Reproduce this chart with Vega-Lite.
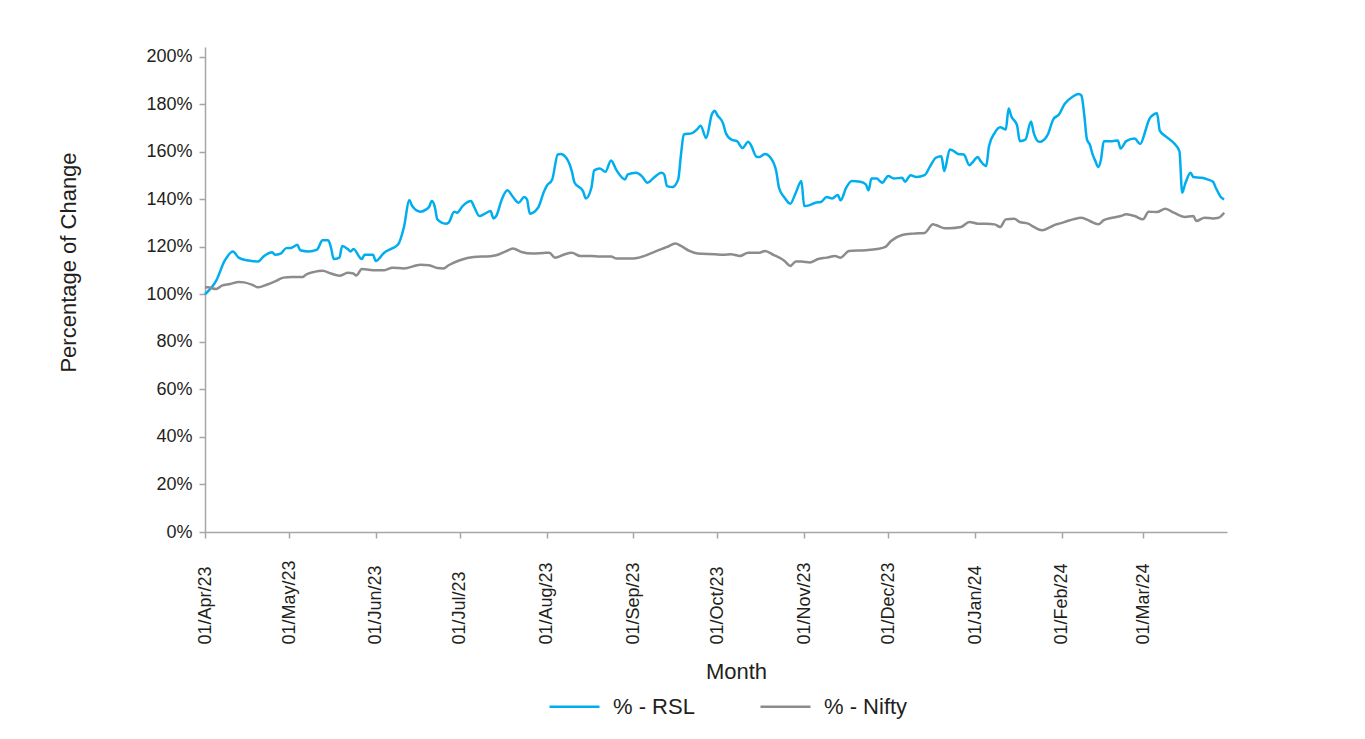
{
  "$schema": "https://vega.github.io/schema/vega-lite/v6.json",
  "width": 1022,
  "height": 485,
  "autosize": {"type": "none"},
  "padding": {"left": 205, "top": 47, "right": 138, "bottom": 207},
  "background": "white",
  "config": {"view": {"stroke": null}, "font": "Liberation Sans"},
  "datasets": {
    "rsl": [
      {"d":"2023-04-01","v":100},{"d":"2023-04-05","v":105.7},{"d":"2023-04-08","v":114},{"d":"2023-04-11","v":118},{"d":"2023-04-13","v":115.4},{"d":"2023-04-16","v":114.3},{"d":"2023-04-20","v":113.8},{"d":"2023-04-22","v":116},{"d":"2023-04-25","v":117.7},{"d":"2023-04-26","v":116.6},{"d":"2023-04-28","v":117.1},{"d":"2023-04-30","v":119.4},
      {"d":"2023-05-02","v":119.6},{"d":"2023-05-04","v":120.8},{"d":"2023-05-05","v":118.5},{"d":"2023-05-08","v":118},{"d":"2023-05-11","v":118.8},{"d":"2023-05-13","v":122.7},{"d":"2023-05-15","v":122.7},{"d":"2023-05-16","v":119.6},{"d":"2023-05-17","v":114.8},{"d":"2023-05-19","v":115.4},{"d":"2023-05-20","v":120.3},{"d":"2023-05-22","v":119},{"d":"2023-05-23","v":118},{"d":"2023-05-24","v":119},{"d":"2023-05-27","v":114.8},{"d":"2023-05-28","v":116.6},{"d":"2023-05-31","v":116.6},
      {"d":"2023-06-01","v":114},{"d":"2023-06-04","v":117.5},{"d":"2023-06-07","v":119.4},{"d":"2023-06-09","v":121},{"d":"2023-06-11","v":128},{"d":"2023-06-13","v":139.5},{"d":"2023-06-14","v":137.1},{"d":"2023-06-17","v":134.7},{"d":"2023-06-19","v":135.7},{"d":"2023-06-20","v":136.7},{"d":"2023-06-21","v":139.2},{"d":"2023-06-22","v":137.1},{"d":"2023-06-23","v":131.5},{"d":"2023-06-26","v":129.7},{"d":"2023-06-27","v":130.1},{"d":"2023-06-29","v":134.7},{"d":"2023-06-30","v":134.3},
      {"d":"2023-07-02","v":137.1},{"d":"2023-07-05","v":139.2},{"d":"2023-07-06","v":137.1},{"d":"2023-07-08","v":132.9},{"d":"2023-07-10","v":133.9},{"d":"2023-07-12","v":135},{"d":"2023-07-13","v":131.9},{"d":"2023-07-14","v":132.9},{"d":"2023-07-16","v":139.9},{"d":"2023-07-18","v":143.7},{"d":"2023-07-20","v":140.9},{"d":"2023-07-22","v":138.5},{"d":"2023-07-24","v":140.9},{"d":"2023-07-25","v":139.9},{"d":"2023-07-26","v":133.9},{"d":"2023-07-29","v":136.5},{"d":"2023-07-31","v":143},
      {"d":"2023-08-01","v":145.5},{"d":"2023-08-03","v":148.3},{"d":"2023-08-05","v":158.8},{"d":"2023-08-06","v":159},{"d":"2023-08-08","v":157.4},{"d":"2023-08-10","v":151.8},{"d":"2023-08-11","v":146.9},{"d":"2023-08-14","v":143.4},{"d":"2023-08-15","v":140.3},{"d":"2023-08-17","v":144.8},{"d":"2023-08-18","v":152.1},{"d":"2023-08-20","v":152.9},{"d":"2023-08-22","v":151.5},{"d":"2023-08-24","v":156.3},{"d":"2023-08-26","v":152.1},{"d":"2023-08-29","v":148.3},{"d":"2023-08-30","v":150.4},
      {"d":"2023-09-02","v":151.1},{"d":"2023-09-04","v":149.7},{"d":"2023-09-06","v":146.9},{"d":"2023-09-08","v":148.7},{"d":"2023-09-11","v":151.1},{"d":"2023-09-12","v":150.4},{"d":"2023-09-13","v":145.5},{"d":"2023-09-15","v":145.1},{"d":"2023-09-17","v":148.3},{"d":"2023-09-18","v":158.8},{"d":"2023-09-19","v":167.2},{"d":"2023-09-22","v":167.8},{"d":"2023-09-24","v":169.7},{"d":"2023-09-25","v":170.9},{"d":"2023-09-27","v":165.7},{"d":"2023-09-29","v":175.6},{"d":"2023-09-30","v":177.2},
      {"d":"2023-10-01","v":175.3},{"d":"2023-10-03","v":172},{"d":"2023-10-04","v":167.8},{"d":"2023-10-06","v":165},{"d":"2023-10-08","v":164.4},{"d":"2023-10-10","v":161.5},{"d":"2023-10-12","v":164.1},{"d":"2023-10-13","v":162.7},{"d":"2023-10-15","v":157.8},{"d":"2023-10-16","v":157.7},{"d":"2023-10-18","v":159},{"d":"2023-10-20","v":157.4},{"d":"2023-10-22","v":151.8},{"d":"2023-10-23","v":144.8},{"d":"2023-10-25","v":140.6},{"d":"2023-10-27","v":138.1},{"d":"2023-10-29","v":142.7},{"d":"2023-10-31","v":147.6},
      {"d":"2023-11-01","v":137.1},{"d":"2023-11-03","v":137.5},{"d":"2023-11-05","v":138.5},{"d":"2023-11-07","v":138.8},{"d":"2023-11-09","v":140.9},{"d":"2023-11-11","v":140.3},{"d":"2023-11-13","v":141.7},{"d":"2023-11-14","v":139.5},{"d":"2023-11-16","v":144.8},{"d":"2023-11-18","v":147.6},{"d":"2023-11-21","v":147.3},{"d":"2023-11-23","v":146.2},{"d":"2023-11-24","v":143.7},{"d":"2023-11-25","v":148.7},{"d":"2023-11-27","v":148.7},{"d":"2023-11-28","v":147.6},{"d":"2023-11-29","v":146.9},{"d":"2023-11-30","v":148.5},
      {"d":"2023-12-01","v":149.7},{"d":"2023-12-03","v":148.7},{"d":"2023-12-06","v":149},{"d":"2023-12-07","v":147.3},{"d":"2023-12-09","v":150.1},{"d":"2023-12-11","v":149.3},{"d":"2023-12-14","v":150.1},{"d":"2023-12-16","v":153.9},{"d":"2023-12-18","v":157.4},{"d":"2023-12-20","v":158.1},{"d":"2023-12-21","v":151.8},{"d":"2023-12-23","v":160.9},{"d":"2023-12-24","v":160.5},{"d":"2023-12-26","v":159},{"d":"2023-12-28","v":158.8},{"d":"2023-12-30","v":154.3},{"d":"2023-12-31","v":155.3},
      {"d":"2024-01-02","v":157.7},{"d":"2024-01-03","v":156},{"d":"2024-01-05","v":153.9},{"d":"2024-01-06","v":162.3},{"d":"2024-01-08","v":167.8},{"d":"2024-01-10","v":170.2},{"d":"2024-01-12","v":169.3},{"d":"2024-01-13","v":178.1},{"d":"2024-01-14","v":174.8},{"d":"2024-01-16","v":171.1},{"d":"2024-01-17","v":164.4},{"d":"2024-01-19","v":165},{"d":"2024-01-21","v":172.7},{"d":"2024-01-22","v":167.8},{"d":"2024-01-24","v":164.1},{"d":"2024-01-25","v":164.4},{"d":"2024-01-27","v":167.2},{"d":"2024-01-29","v":173.7},{"d":"2024-01-31","v":175.6},
      {"d":"2024-02-02","v":180},{"d":"2024-02-05","v":183.2},{"d":"2024-02-07","v":184.2},{"d":"2024-02-08","v":183.6},{"d":"2024-02-09","v":175.6},{"d":"2024-02-10","v":165},{"d":"2024-02-11","v":163},{"d":"2024-02-12","v":158.8},{"d":"2024-02-13","v":156},{"d":"2024-02-14","v":153.5},{"d":"2024-02-15","v":156.7},{"d":"2024-02-16","v":164.4},{"d":"2024-02-19","v":164.4},{"d":"2024-02-21","v":164.7},{"d":"2024-02-22","v":161.3},{"d":"2024-02-24","v":164.4},{"d":"2024-02-27","v":165.5},{"d":"2024-02-29","v":163.2},
      {"d":"2024-03-02","v":169.3},{"d":"2024-03-03","v":173},{"d":"2024-03-05","v":175.8},{"d":"2024-03-06","v":176.1},{"d":"2024-03-07","v":168.8},{"d":"2024-03-09","v":166.5},{"d":"2024-03-12","v":163.6},{"d":"2024-03-14","v":160.2},{"d":"2024-03-15","v":142.7},{"d":"2024-03-16","v":146.2},{"d":"2024-03-18","v":151.1},{"d":"2024-03-19","v":149.3},{"d":"2024-03-22","v":149},{"d":"2024-03-24","v":148.3},{"d":"2024-03-26","v":147.3},{"d":"2024-03-27","v":144.8},{"d":"2024-03-29","v":140.6},{"d":"2024-03-30","v":139.9}
    ],
    "nifty": [
      {"d":"2023-04-01","v":102.8},{"d":"2023-04-02","v":102.9},{"d":"2023-04-05","v":102.2},{"d":"2023-04-07","v":103.6},{"d":"2023-04-10","v":104.3},{"d":"2023-04-13","v":105.2},{"d":"2023-04-15","v":105},{"d":"2023-04-18","v":103.9},{"d":"2023-04-20","v":102.9},{"d":"2023-04-23","v":104},{"d":"2023-04-26","v":105.4},{"d":"2023-04-29","v":107},
      {"d":"2023-05-02","v":107.3},{"d":"2023-05-06","v":107.3},{"d":"2023-05-07","v":108.2},{"d":"2023-05-10","v":109.4},{"d":"2023-05-13","v":109.9},{"d":"2023-05-16","v":108.7},{"d":"2023-05-19","v":107.8},{"d":"2023-05-22","v":109},{"d":"2023-05-24","v":108.7},{"d":"2023-05-25","v":107.9},{"d":"2023-05-27","v":110.6},
      {"d":"2023-06-01","v":110.1},{"d":"2023-06-04","v":110.1},{"d":"2023-06-07","v":111.2},{"d":"2023-06-11","v":110.8},{"d":"2023-06-17","v":112.4},{"d":"2023-06-20","v":112.2},{"d":"2023-06-23","v":111},{"d":"2023-06-25","v":110.8},{"d":"2023-06-27","v":112.2},
      {"d":"2023-07-01","v":114.3},{"d":"2023-07-06","v":115.7},{"d":"2023-07-12","v":116},{"d":"2023-07-14","v":116.4},{"d":"2023-07-17","v":117.8},{"d":"2023-07-20","v":119.2},{"d":"2023-07-23","v":117.8},{"d":"2023-07-27","v":117.1},{"d":"2023-07-31","v":117.4},
      {"d":"2023-08-02","v":117.5},{"d":"2023-08-04","v":115.4},{"d":"2023-08-07","v":116.6},{"d":"2023-08-10","v":117.5},{"d":"2023-08-13","v":116.1},{"d":"2023-08-17","v":116.1},{"d":"2023-08-20","v":115.9},{"d":"2023-08-24","v":115.9},{"d":"2023-08-26","v":115},
      {"d":"2023-09-01","v":115},{"d":"2023-09-03","v":115.4},{"d":"2023-09-07","v":117.1},{"d":"2023-09-11","v":119},{"d":"2023-09-13","v":119.9},{"d":"2023-09-16","v":121.3},{"d":"2023-09-18","v":120.3},{"d":"2023-09-21","v":118.2},{"d":"2023-09-24","v":117.1},{"d":"2023-09-30","v":116.8},
      {"d":"2023-10-03","v":116.6},{"d":"2023-10-06","v":116.8},{"d":"2023-10-07","v":116.6},{"d":"2023-10-09","v":116.1},{"d":"2023-10-12","v":117.5},{"d":"2023-10-16","v":117.5},{"d":"2023-10-18","v":118.2},{"d":"2023-10-21","v":116.6},{"d":"2023-10-25","v":114},{"d":"2023-10-27","v":111.9},{"d":"2023-10-29","v":113.8},{"d":"2023-10-31","v":113.8},
      {"d":"2023-11-03","v":113.4},{"d":"2023-11-06","v":114.8},{"d":"2023-11-09","v":115.4},{"d":"2023-11-12","v":116.1},{"d":"2023-11-14","v":115.4},{"d":"2023-11-17","v":118.2},{"d":"2023-11-23","v":118.5},{"d":"2023-11-27","v":119},{"d":"2023-11-30","v":119.9},
      {"d":"2023-12-02","v":122.4},{"d":"2023-12-06","v":124.9},{"d":"2023-12-10","v":125.5},{"d":"2023-12-14","v":125.8},{"d":"2023-12-17","v":129.4},{"d":"2023-12-18","v":129.1},{"d":"2023-12-21","v":127.8},{"d":"2023-12-23","v":127.8},{"d":"2023-12-27","v":128.3},{"d":"2023-12-30","v":130.4},
      {"d":"2024-01-02","v":129.7},{"d":"2024-01-05","v":129.7},{"d":"2024-01-08","v":129.4},{"d":"2024-01-10","v":128.3},{"d":"2024-01-12","v":131.5},{"d":"2024-01-15","v":131.8},{"d":"2024-01-17","v":130.4},{"d":"2024-01-20","v":129.7},{"d":"2024-01-22","v":128.3},{"d":"2024-01-25","v":126.9},{"d":"2024-01-28","v":128.3},{"d":"2024-01-30","v":129.4},{"d":"2024-01-31","v":129.7},
      {"d":"2024-02-03","v":130.8},{"d":"2024-02-05","v":131.5},{"d":"2024-02-08","v":132.2},{"d":"2024-02-11","v":130.8},{"d":"2024-02-14","v":129.4},{"d":"2024-02-16","v":131.2},{"d":"2024-02-19","v":132.2},{"d":"2024-02-22","v":132.9},{"d":"2024-02-24","v":133.6},{"d":"2024-02-27","v":132.9},
      {"d":"2024-03-01","v":131.5},{"d":"2024-03-03","v":134.7},{"d":"2024-03-06","v":134.6},{"d":"2024-03-09","v":136},{"d":"2024-03-12","v":134.3},{"d":"2024-03-16","v":132.5},{"d":"2024-03-19","v":132.9},{"d":"2024-03-20","v":130.8},{"d":"2024-03-23","v":132.2},{"d":"2024-03-26","v":131.9},{"d":"2024-03-28","v":132.2},{"d":"2024-03-30","v":134.3}
    ]
  },
  "encoding": {
    "x": {
      "field": "d",
      "type": "temporal",
      "scale": {"type": "utc", "domain": [{"year": 2023, "month": 4, "date": 1, "utc": true}, {"year": 2024, "month": 3, "date": 31, "utc": true}]},
      "axis": {
        "title": "Month",
        "format": "%d/%b/%y",
        "tickCount": {"interval": "month", "step": 1},
        "labelAngle": -90,
        "labelAlign": "left",
        "labelBaseline": "middle",
        "labelPadding": 106,
        "labelFontSize": 18,
        "labelColor": "#231F20",
        "labelOverlap": false,
        "labelFlush": false,
        "tickSize": 6,
        "tickColor": "#A6A6A6",
        "tickWidth": 1.5,
        "domainColor": "#A6A6A6",
        "domainWidth": 1.5,
        "grid": false,
        "titleFontSize": 22,
        "titleFontWeight": "normal",
        "titleColor": "#231F20",
        "titlePadding": 17,
        "titleX": 531
      }
    },
    "y": {
      "field": "v",
      "type": "quantitative",
      "scale": {"domain": [0, 204], "nice": false},
      "axis": {
        "title": "Percentage of Change",
        "values": [0, 20, 40, 60, 80, 100, 120, 140, 160, 180, 200],
        "labelExpr": "datum.value + '%'",
        "labelFontSize": 18,
        "labelColor": "#231F20",
        "labelPadding": 7,
        "tickSize": 6,
        "tickColor": "#A6A6A6",
        "tickWidth": 1.5,
        "domainColor": "#A6A6A6",
        "domainWidth": 1.5,
        "grid": false,
        "titleFontSize": 22,
        "titleFontWeight": "normal",
        "titleColor": "#231F20",
        "titlePadding": 65,
        "titleY": 215
      }
    }
  },
  "layer": [
    {
      "data": {"name": "rsl"},
      "mark": {"type": "line", "strokeWidth": 2.5, "interpolate": "monotone"},
      "encoding": {
        "color": {
          "datum": "% - RSL",
          "type": "nominal",
          "scale": {"domain": ["% - RSL", "% - Nifty"], "range": ["#00AEEF", "#8C8C8C"]},
          "legend": {
            "orient": "none",
            "legendX": 343,
            "legendY": 633,
            "direction": "horizontal",
            "title": null,
            "symbolType": "stroke",
            "symbolSize": 2500,
            "symbolStrokeWidth": 2.5,
            "labelFontSize": 22,
            "labelColor": "#231F20",
            "labelOffset": 12,
            "columnPadding": 60
          }
        }
      }
    },
    {
      "data": {"name": "nifty"},
      "mark": {"type": "line", "strokeWidth": 2.5, "interpolate": "monotone"},
      "encoding": {
        "color": {
          "datum": "% - Nifty",
          "type": "nominal"
        }
      }
    }
  ]
}
